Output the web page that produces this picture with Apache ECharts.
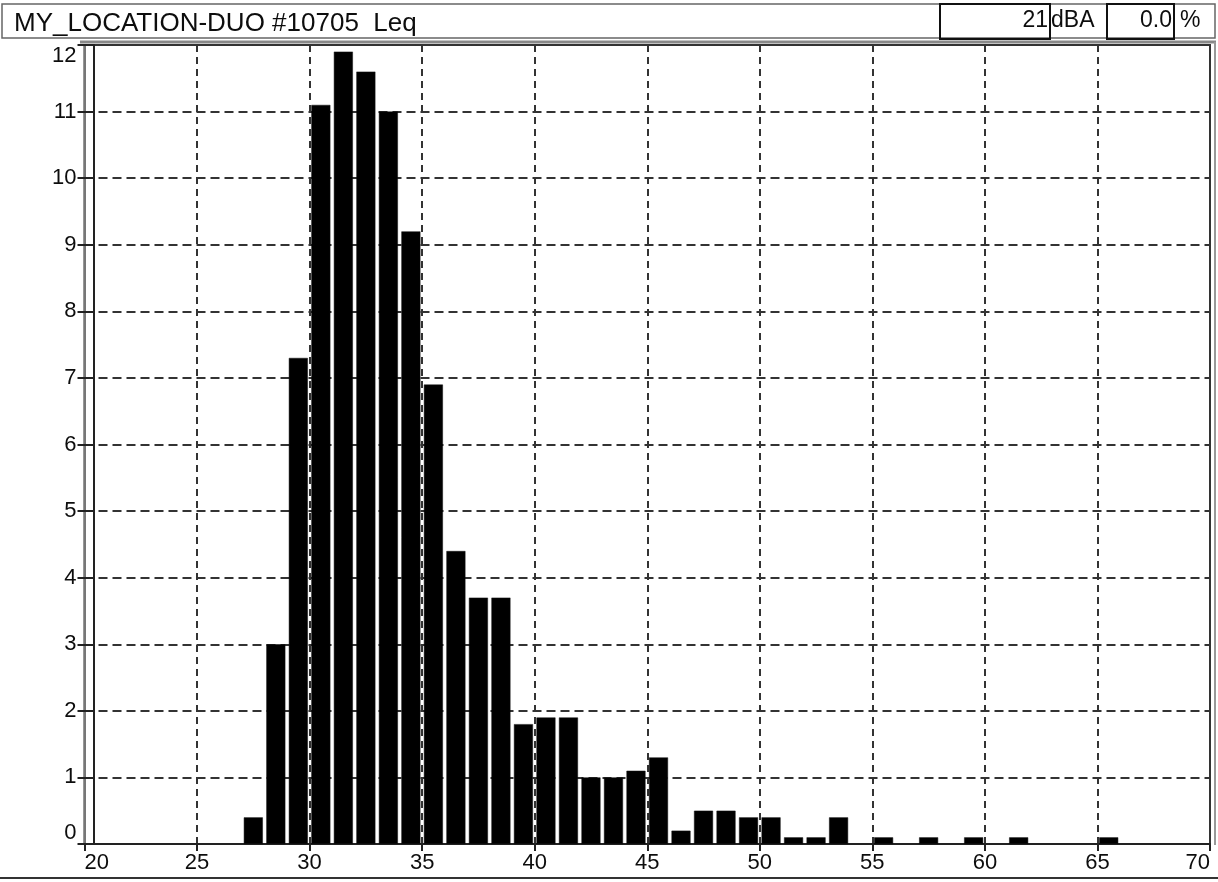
<!DOCTYPE html>
<html>
<head>
<meta charset="utf-8">
<script src="https://cdn.jsdelivr.net/npm/echarts@6/dist/echarts.min.js"></script>
<style>
html,body{margin:0;padding:0;background:#fff;}
#chart{width:1218px;height:882px;}
</style>
</head>
<body>
<div id="chart"></div>
<script>
// Data
const titleText = 'MY_LOCATION-DUO #10705  Leq';
const levelValue = '21';
const levelUnit = 'dBA';
const percentValue = '0.0';
const percentUnit = '%';
const binStart = [27, 28, 29, 30, 31, 32, 33, 34, 35, 36, 37, 38, 39, 40, 41, 42, 43, 44, 45, 46, 47, 48, 49, 50, 51, 52, 53, 55, 57, 59, 61, 65];
const binPercent = [0.4, 3.0, 7.3, 11.1, 11.9, 11.6, 11.0, 9.2, 6.9, 4.4, 3.7, 3.7, 1.8, 1.9, 1.9, 1.0, 1.0, 1.1, 1.3, 0.2, 0.5, 0.5, 0.4, 0.4, 0.1, 0.1, 0.4, 0.1, 0.1, 0.1, 0.1, 0.1];
const xMin = 20, xMax = 70, xStep = 5;
const yMin = 0, yMax = 12, yStep = 1;
const binWidth = 1;

const FONT = '"Liberation Sans", Arial, sans-serif';
const TXT = '#0d0d0d';
const chart = echarts.init(document.getElementById('chart'), null, {renderer: 'canvas'});

const barData = binStart.map((s, i) => [s + binWidth / 2, binPercent[i]]);

const option = {
  backgroundColor: '#ffffff',
  animation: false,
  title: {
    text: titleText,
    left: 9,
    top: 6,
    textStyle: {fontFamily: FONT, fontSize: 26, fontWeight: 'normal', color: TXT}
  },
  grid: {
    left: 84.5, right: 8, top: 45, bottom: 38,
    show: true, borderColor: '#333', borderWidth: 2, backgroundColor: 'transparent'
  },
  xAxis: {
    type: 'value',
    min: xMin, max: xMax, interval: xStep,
    axisLine: {show: true, onZero: false, lineStyle: {color: '#222', width: 2}},
    axisTick: {show: true, length: 7, lineStyle: {color: '#222', width: 2}},
    axisLabel: {
      fontFamily: FONT, fontSize: 22, color: TXT, margin: 8,
      alignMinLabel: 'left', alignMaxLabel: 'right'
    },
    splitLine: {show: true, lineStyle: {color: '#333', width: 2, type: [7, 5]}}
  },
  yAxis: [
    {
      type: 'value',
      min: yMin, max: yMax, interval: yStep,
      position: 'left',
      axisLine: {show: true, lineStyle: {color: '#777', width: 2}},
      axisTick: {show: true, length: 7, lineStyle: {color: '#222', width: 2}},
      axisLabel: {
        fontFamily: FONT, fontSize: 22, color: TXT, margin: 8,
        verticalAlignMinLabel: 'bottom', verticalAlignMaxLabel: 'top'
      },
      splitLine: {show: true, lineStyle: {color: '#333', width: 2, type: [9, 5]}}
    },
    {
      type: 'value',
      min: yMin, max: yMax, interval: yStep,
      position: 'left',
      offset: -9,
      axisLine: {show: true, lineStyle: {color: '#222', width: 2}},
      axisTick: {show: true, length: 9, lineStyle: {color: '#222', width: 2}},
      axisLabel: {show: false},
      splitLine: {show: false}
    }
  ],
  series: [{
    type: 'bar',
    data: barData,
    barWidth: 19,
    yAxisIndex: 0,
    itemStyle: {color: '#000', borderColor: '#111', borderWidth: 0.5},
    silent: true
  }],
  graphic: [
    // header box
    {type: 'rect', shape: {x: 2, y: 4, width: 1213, height: 34}, style: {fill: 'none', stroke: '#666', lineWidth: 1.5}, z: 0},
    {type: 'rect', shape: {x: 940, y: 4, width: 110, height: 35}, style: {fill: 'none', stroke: '#111', lineWidth: 2}},
    {type: 'rect', shape: {x: 1107, y: 4, width: 67, height: 35}, style: {fill: 'none', stroke: '#111', lineWidth: 2}},
    {type: 'text', x: 1048, y: 21, style: {text: levelValue, fontFamily: FONT, fontSize: 23, fill: TXT, align: 'right', verticalAlign: 'middle'}},
    {type: 'text', x: 1051, y: 21, style: {text: levelUnit, fontFamily: FONT, fontSize: 23, fill: TXT, align: 'left', verticalAlign: 'middle'}},
    {type: 'text', x: 1172, y: 21, style: {text: percentValue, fontFamily: FONT, fontSize: 23, fill: TXT, align: 'right', verticalAlign: 'middle'}},
    {type: 'text', x: 1180, y: 21, style: {text: percentUnit, fontFamily: FONT, fontSize: 23, fill: TXT, align: 'left', verticalAlign: 'middle'}},
    // plot frame outer shading
    {type: 'line', shape: {x1: 80, y1: 42, x2: 1216, y2: 42}, style: {stroke: '#888', lineWidth: 3}},
    {type: 'line', shape: {x1: 1215, y1: 42, x2: 1215, y2: 845}, style: {stroke: '#999', lineWidth: 2}},
    // bottom rule
    {type: 'line', shape: {x1: 0, y1: 878, x2: 1218, y2: 878}, style: {stroke: '#333', lineWidth: 2}}
  ]
};
chart.setOption(option);
</script>
</body>
</html>
